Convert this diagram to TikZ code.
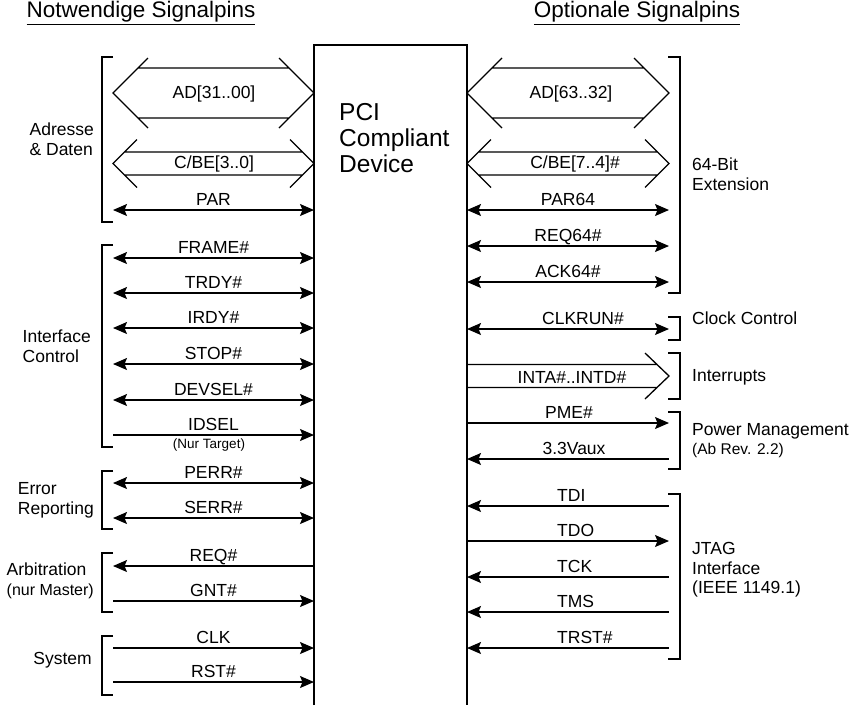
\documentclass[tikz,border=0pt]{standalone}
\usepackage{fontspec}
\setmainfont{Liberation Sans}
\usetikzlibrary{arrows.meta}
\newcommand\sigfont{\fontsize{17.5}{20}\selectfont}
\newcommand\smallsigfont{\fontsize{15.5}{18}\selectfont}
\newcommand\titlefont{\fontsize{22.5}{24}\selectfont}
\newcommand\devfont{\fontsize{24.5}{26}\selectfont}
\def\busarrow[#1](#2:#3:#4)(#5:#6)% Syntax: [draw options] (left x:right x:y) (rail offset:chevron size)
    { \draw[#1] ({#2+#6},{#4-#6}) -- (#2,#4) -- ({#2+#6},{#4+#6})
                ({#3-#6},{#4-#6}) -- (#3,#4) -- ({#3-#6},{#4+#6})
                ({#2+#5},{#4-#5}) -- ({#3-#5},{#4-#5})
                ({#2+#5},{#4+#5}) -- ({#3-#5},{#4+#5}); }
\tikzset{
  wire/.style={line width=1.3pt},
  tip/.tip={Stealth[length=14pt,width=12pt,inset=2.5pt]},
  bidir/.style={wire, tip-tip},
  todev/.style={wire, -tip},
  fromdev/.style={wire, tip-},
  lbl/.style={anchor=base, yshift=5pt, inner sep=0pt, font=\sigfont},
  group/.style={align=left, inner sep=0pt, font=\sigfont},
}
\begin{document}
\begin{tikzpicture}[x=1pt,y=-1pt]
  \useasboundingbox (0,0) rectangle (865,705);

  % titles
  \node[font=\titlefont] (need) at (141,13) {\underline{Notwendige Signalpins}};
  \node[font=\titlefont] (opt) at (637,13) {\underline{Optionale Signalpins}};

  % the device
  \draw[wire] (314,705) -- (314,45) -- (467,45) -- (467,705);
  \node[group, font=\devfont, anchor=north west] (dev) at (339,103) {PCI\\Compliant\\Device};

  %% left side: required pins
  \busarrow[wire](113:314:93)(25:35)
  \node[font=\sigfont] (ad) at (214,94) {AD[31..00]};
  \busarrow[wire](113:314:163.5)(11.5:24)
  \node[font=\sigfont] (cbe) at (214,164) {C/BE[3..0]};

  \foreach \y/\sig/\tip [count=\i] in {210/PAR/bidir, 258/FRAME\#/bidir, 293/TRDY\#/bidir,
      328/IRDY\#/bidir, 364/STOP\#/bidir, 400/DEVSEL\#/bidir, 435/IDSEL/todev,
      483/PERR\#/bidir, 518/SERR\#/bidir, 566/REQ\#/fromdev, 601/GNT\#/todev,
      648/CLK/todev, 682/RST\#/todev}
  {
    \coordinate (endL\i) at (113,\y);
    \coordinate (pinL\i) at (314,\y);
    \draw[\tip] (endL\i) -- node[lbl] {\sig} (pinL\i);
  }
  \node[anchor=base, font=\fontsize{13.5}{15}\selectfont, inner sep=0pt] (nurtarget) at (209,448) {(Nur Target)};

  % brackets left
  \draw[wire] (113,57) -| (102,222) -- (113,222);
  \draw[wire] (113,245) -| (102,447) -- (113,447);
  \draw[wire] (113,471) -| (102,529) -- (113,529);
  \draw[wire] (113,553) -| (102,612) -- (113,612);
  \draw[wire] (113,636) -| (102,695) -- (113,695);

  \node[group, anchor=east] (addr) at (94,139) {Adresse\\\& Daten};
  \node[group, anchor=east] (ifc) at (91,346) {Interface\\Control};
  \node[group, anchor=east] (err) at (94,500) {Error\\Reporting};
  \node[group, anchor=east] (arb) at (94,581) {Arbitration\\{\fontsize{16}{20}\selectfont(nur Master)}};
  \node[group, anchor=east] (sys) at (92,660) {System};

  %% right side: optional pins
  \busarrow[wire](467:669:93)(25:35)
  \node[font=\sigfont] (ad64) at (571,94) {AD[63..32]};
  \busarrow[wire](467:669:163.5)(11.5:24)
  \node[font=\sigfont] (cbe64) at (575,164) {C/BE[7..4]\#};

  \foreach \y/\sig/\tip/\dx [count=\i] in {210/PAR64/bidir/0, 246/REQ64\#/bidir/0,
      282/ACK64\#/bidir/0, 329/CLKRUN\#/bidir/15, 423/PME\#/todev/1, 459/3.3Vaux/fromdev/6}
  {
    \coordinate (pinR\i) at (467,\y);
    \coordinate (endR\i) at (669,\y);
    \draw[\tip] (pinR\i) -- node[lbl, xshift=\dx pt] {\sig} (endR\i);
  }

  % interrupts, one way only
  \draw[wire] (467,364.5) -- (657.5,364.5) (467,387.5) -- (657.5,387.5)
              (645,353) -- (669,376) -- (645,399);
  \node[font=\sigfont] (intx) at (572,377) {INTA\#..INTD\#};

  % jtag
  \foreach \y/\sig/\tip [count=\i] in {506/TDI/fromdev, 541/TDO/todev, 577/TCK/fromdev,
      612/TMS/fromdev, 648/TRST\#/fromdev}
  {
    \coordinate (pinJ\i) at (467,\y);
    \coordinate (endJ\i) at (669,\y);
    \draw[\tip] (pinJ\i) -- (endJ\i);
    \node[lbl, anchor=base west] (lblJ\i) at (557,\y) {\sig};
  }

  % brackets right
  \draw[wire] (668,57) -| (680,293) -- (668,293);
  \draw[wire] (668,317) -| (680,340) -- (668,340);
  \draw[wire] (668,353) -| (680,399) -- (668,399);
  \draw[wire] (668,412) -| (680,469) -- (668,469);
  \draw[wire] (668,494) -| (680,659) -- (668,659);

  \node[group, anchor=west] (ext) at (692,174) {64-Bit\\Extension};
  \node[group, anchor=west] (clkctl) at (692,318) {Clock Control};
  \node[group, anchor=west] (irq) at (692,377) {Interrupts};
  \node[group, anchor=base west] (pm) at (692,435) {Power Management};
  \node[anchor=base west, inner sep=0pt, font=\smallsigfont] (rev) at (692,454) {(Ab Rev. 2.2)};
  \node[group, anchor=west] (jtag) at (692,558) {JTAG\\Interface};
  \node[group, anchor=west] (ieee) at (692,589) {(IEEE 1149.1)};
\end{tikzpicture}
\end{document}
